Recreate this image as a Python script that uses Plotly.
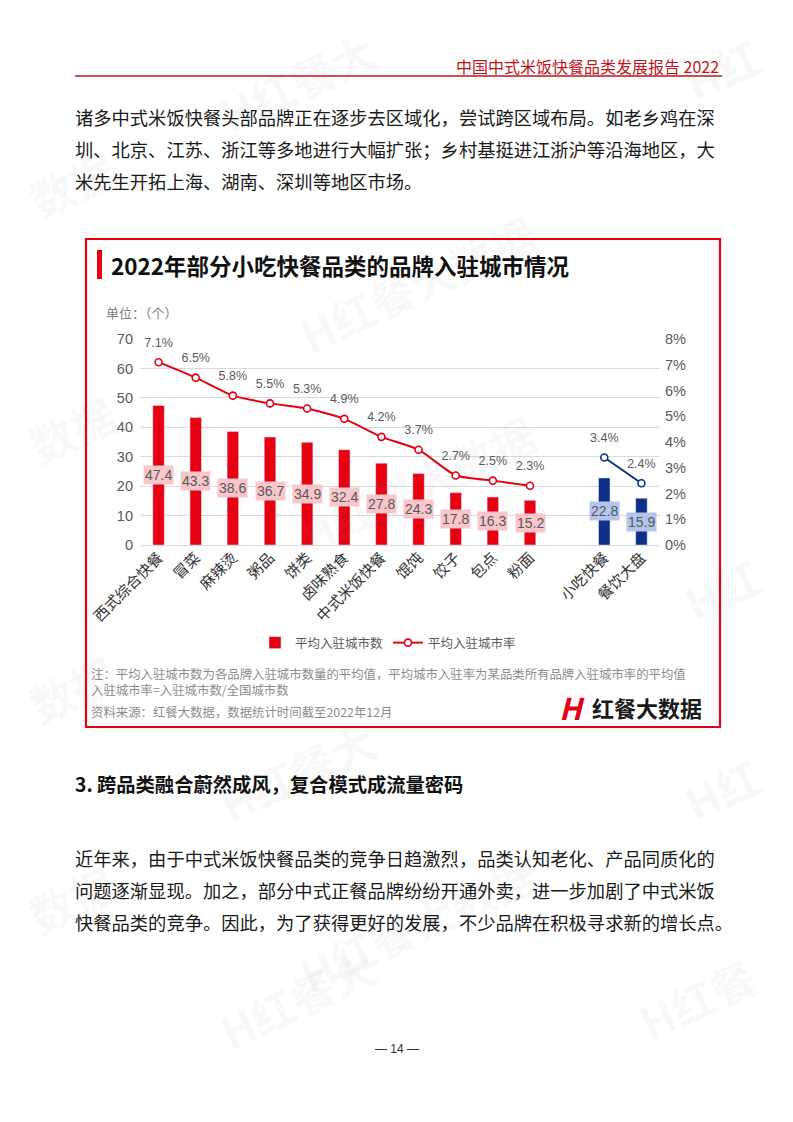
import plotly.graph_objects as go

W, H = 793, 1122
OFF = 8  # page body margin offset of the rendered figure
def px(x): return (x - OFF) / W
def py(y): return 1 - (y - OFF) / H

# ---------------- data ----------------
red_cats = ["西式综合快餐", "冒菜", "麻辣烫", "粥品", "饼类", "卤味熟食",
            "中式米饭快餐", "馄饨", "饺子", "包点", "粉面"]
red_counts = [47.4, 43.3, 38.6, 36.7, 34.9, 32.4, 27.8, 24.3, 17.8, 16.3, 15.2]
red_rates = [0.071, 0.065, 0.058, 0.055, 0.053, 0.049, 0.042, 0.037, 0.027, 0.025, 0.023]
blue_cats = ["小吃快餐", "餐饮大盘"]
blue_counts = [22.8, 15.9]
blue_rates = [0.034, 0.024]
gap_cat = " "
left_ticks = [0, 10, 20, 30, 40, 50, 60, 70]
right_ticks = [0, 0.01, 0.02, 0.03, 0.04, 0.05, 0.06, 0.07, 0.08]
right_tick_text = ["0%", "1%", "2%", "3%", "4%", "5%", "6%", "7%", "8%"]

RED = "#e60012"
DARKRED = "#c0141c"
BLUE = "#0e2f8a"
PINK = "#f8c6cb"
LBLUE = "#b3c5ea"
GRAY = "#595959"
CJK = "Noto Sans CJK SC"
NUM = "Liberation Sans, Noto Sans CJK SC"

cat_order = red_cats + [gap_cat] + blue_cats

fig = go.Figure()

fig.add_trace(go.Bar(x=red_cats, y=red_counts, marker_color=RED, width=0.31,
                     name="平均入驻城市数", hoverinfo="skip"))
fig.add_trace(go.Bar(x=blue_cats, y=blue_counts, marker_color=BLUE, width=0.31,
                     showlegend=False, hoverinfo="skip"))

fig.add_trace(go.Scatter(x=red_cats, y=red_rates, yaxis="y2", mode="lines+markers",
                         line=dict(color=RED, width=2, shape="spline", smoothing=0.5),
                         marker=dict(symbol="circle", size=7, color="white",
                                     line=dict(color=RED, width=1.6)),
                         name="平均入驻城市率", hoverinfo="skip", cliponaxis=False))
fig.add_trace(go.Scatter(x=blue_cats, y=blue_rates, yaxis="y2", mode="lines+markers",
                         line=dict(color=BLUE, width=2),
                         marker=dict(symbol="circle", size=7, color="white",
                                     line=dict(color=BLUE, width=1.6)),
                         showlegend=False, hoverinfo="skip", cliponaxis=False))
# percentage labels
for cats, rates in ((red_cats, red_rates), (blue_cats, blue_rates)):
    fig.add_trace(go.Scatter(x=cats, y=rates, yaxis="y2", mode="markers+text",
                             marker=dict(size=18, opacity=0),
                             text=[f"{r*100:.1f}%" for r in rates],
                             textposition="top center",
                             textfont=dict(family=NUM, size=12.5, color=GRAY),
                             showlegend=False, hoverinfo="skip", cliponaxis=False))

annotations = []
# bar value boxes
for cats, vals, bg in ((red_cats, red_counts, PINK), (blue_cats, blue_counts, LBLUE)):
    for c, v in zip(cats, vals):
        annotations.append(dict(x=c, y=v / 2, xref="x", yref="y", text=f"{v:.1f}",
                                showarrow=False, bgcolor=bg, borderpad=1,
                                font=dict(family=NUM, size=14, color=GRAY)))

def txt(x, y, s, size, color="#1a1a1a", xanchor="left", family=CJK):
    annotations.append(dict(x=px(x), y=py(y), xref="paper", yref="paper", text=s,
                            showarrow=False, xanchor=xanchor, yanchor="middle",
                            font=dict(family=family, size=size, color=color)))

# header
txt(721, 66, "中国中式米饭快餐品类发展报告 2022", 16, DARKRED, xanchor="right")

# body text
body1 = ["诸多中式米饭快餐头部品牌正在逐步去区域化，尝试跨区域布局。如老乡鸡在深",
         "圳、北京、江苏、浙江等多地进行大幅扩张；乡村基挺进江浙沪等沿海地区，大",
         "米先生开拓上海、湖南、深圳等地区市场。"]
for i, s in enumerate(body1):
    txt(73, 117 + 32 * i, s, 18.3)

# chart title & unit
txt(109, 265, "<b>2022年部分小吃快餐品类的品牌入驻城市情况</b>", 22.5, "#111111")
txt(104, 312, "单位：（个）", 13, "#7f7f7f")

# notes
txt(89, 674, "注：平均入驻城市数为各品牌入驻城市数量的平均值，平均城市入驻率为某品类所有品牌入驻城市率的平均值", 12.4, "#8c8c8c")
txt(89, 690, "入驻城市率=入驻城市数/全国城市数", 12.4, "#8c8c8c")
txt(89, 712, "资料来源：红餐大数据，数据统计时间截至2022年12月", 12.4, "#8c8c8c")

# logo
txt(557, 707, "<b><i>H</i></b>", 30, RED)
txt(590, 707, "<b>红餐大数据</b>", 22, "#1a1a1a")

# section heading & paragraph
txt(73, 784, "<b>3. 跨品类融合蔚然成风，复合模式成流量密码</b>", 19.3, "#111111")
body2 = ["近年来，由于中式米饭快餐品类的竞争日趋激烈，品类认知老化、产品同质化的",
         "问题逐渐显现。加之，部分中式正餐品牌纷纷开通外卖，进一步加剧了中式米饭",
         "快餐品类的竞争。因此，为了获得更好的发展，不少品牌在积极寻求新的增长点。"]
for i, s in enumerate(body2):
    txt(73, 858 + 32 * i, s, 18.3)

# page number
txt(397, 1049, "— 14 —", 12, "#333333", xanchor="center", family=NUM)

shapes = []
# watermarks (shape labels do not push margins)
wm = [(300, 88, "H红餐大"), (725, 75, "H红"), (75, 190, "数据"), (420, 290, "H红餐大数据"),
      (75, 435, "数据"), (420, 490, "H红餐大数据"), (725, 595, "H红"), (75, 695, "数据"),
      (300, 778, "H红餐大"), (725, 795, "H红"), (75, 905, "数据"), (420, 930, "H红餐大数据"),
      (300, 1005, "H红餐大"), (700, 1005, "H红餐")]
for (wx, wy, wt) in wm:
    shapes.append(dict(type="rect", xref="paper", yref="paper", layer="above",
                       x0=px(wx - 5), x1=px(wx + 5), y0=py(wy + 5), y1=py(wy - 5),
                       line=dict(width=0), fillcolor="rgba(0,0,0,0)",
                       label=dict(text="<b>" + wt + "</b>", textangle=-25,
                                  textposition="middle center",
                                  font=dict(family=CJK, size=44, color="rgba(150,150,150,0.08)"))))

shapes += [
    dict(type="line", xref="paper", yref="paper", x0=px(75), x1=px(722), y0=py(76), y1=py(76),
         line=dict(color=DARKRED, width=1.3)),
    dict(type="rect", xref="paper", yref="paper", x0=px(86), x1=px(720), y0=py(239), y1=py(727),
         line=dict(color=RED, width=2.2)),
    dict(type="rect", xref="paper", yref="paper", x0=px(97), x1=px(102), y0=py(250), y1=py(279),
         fillcolor=RED, line=dict(width=0)),
]

fig.update_layout(
    width=W, height=H, margin=dict(l=0, r=0, t=0, b=0, autoexpand=False),
    paper_bgcolor="white", plot_bgcolor="rgba(0,0,0,0)",
    barmode="overlay", showlegend=True,
    legend=dict(orientation="h", x=px(388), xanchor="center", y=py(643), yanchor="middle",
                font=dict(family=CJK, size=12.5, color=GRAY), bgcolor="rgba(0,0,0,0)",
                itemwidth=30),
    xaxis=dict(type="category", categoryorder="array", categoryarray=cat_order,
               range=[-0.5, len(cat_order) - 0.5],
               domain=[px(140), px(660)], tickangle=-45, showgrid=False, showline=False,
               zeroline=False, ticks="", tickfont=dict(family=CJK, size=15, color="#333333"),
               anchor="y", automargin=False),
    yaxis=dict(range=[0, 70], tickvals=left_ticks, domain=[py(545), py(339)],
               showgrid=True, gridcolor="#d9d9d9", gridwidth=1, zeroline=True,
               zerolinecolor="#d9d9d9", zerolinewidth=1, showline=False, ticks="",
               ticklabelstandoff=6, tickfont=dict(family=NUM, size=14.5, color=GRAY),
               automargin=False),
    yaxis2=dict(range=[0, 0.08], tickvals=right_ticks, ticktext=right_tick_text,
                overlaying="y", side="right", anchor="x", showgrid=False, zeroline=False,
                showline=False, ticks="", ticklabelstandoff=4,
                tickfont=dict(family=NUM, size=14.5, color=GRAY), automargin=False),
    annotations=annotations, shapes=shapes,
)

fig.write_html("out.html")
